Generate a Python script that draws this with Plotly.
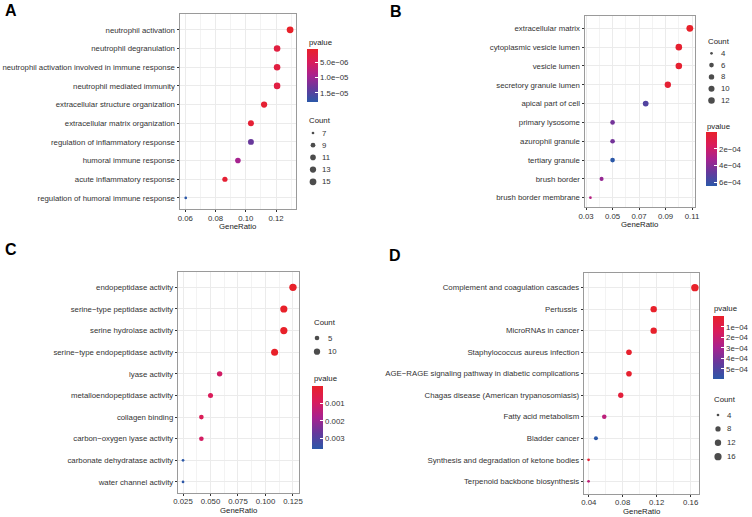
import math
import plotly.graph_objects as go

W, H = 752, 517

# ---------------- data ----------------
a_terms = ["neutrophil activation", "neutrophil degranulation",
           "neutrophil activation involved in immune response", "neutrophil mediated immunity",
           "extracellular structure organization", "extracellular matrix organization",
           "regulation of inflammatory response", "humoral immune response",
           "acute inflammatory response", "regulation of humoral immune response"]
a_ratio = [0.1293, 0.1207, 0.1207, 0.1207, 0.1121, 0.1034, 0.1034, 0.0948, 0.0862, 0.0603]
a_count = [15, 14, 14, 14, 13, 12, 12, 11, 10, 7]
a_pvalue = [6.2e-7, 2.6e-6, 2.6e-6, 2.8e-6, 1.4e-6, 1.6e-6, 1.35e-5, 9.5e-6, 1.5e-6, 1.81e-5]
a_ptick = [5e-6, 1e-5, 1.5e-5]
a_ptick_text = ["5.0e\u221206", "1.0e\u221205", "1.5e\u221205"]
a_count_breaks = [7, 9, 11, 13, 15]

b_terms = ["extracellular matrix", "cytoplasmic vesicle lumen", "vesicle lumen",
           "secretory granule lumen", "apical part of cell", "primary lysosome",
           "azurophil granule", "tertiary granule", "brush border", "brush border membrane"]
b_ratio = [0.1083, 0.1000, 0.1000, 0.0917, 0.0750, 0.0500, 0.0500, 0.0500, 0.0417, 0.0333]
b_count = [13, 12, 12, 11, 9, 6, 6, 6, 5, 4]
b_pvalue = [1.0e-6, 2.2e-5, 2.4e-5, 3.2e-5, 5.4e-4, 4.5e-4, 4.5e-4, 6.5e-4, 3.7e-4, 2.8e-4]
b_ptick = [2e-4, 4e-4, 6e-4]
b_ptick_text = ["2e\u221204", "4e\u221204", "6e\u221204"]
b_count_breaks = [4, 6, 8, 10, 12]

c_terms = ["endopeptidase activity", "serine\u2212type peptidase activity", "serine hydrolase activity",
           "serine\u2212type endopeptidase activity", "lyase activity", "metalloendopeptidase activity",
           "collagen binding", "carbon\u2212oxygen lyase activity", "carbonate dehydratase activity",
           "water channel activity"]
c_ratio = [0.1250, 0.1167, 0.1167, 0.1083, 0.0583, 0.0500, 0.0417, 0.0417, 0.0250, 0.0250]
c_count = [15, 14, 14, 13, 7, 6, 5, 5, 3, 3]
c_pvalue = [2e-6, 3e-6, 3e-6, 5e-6, 1.05e-3, 8.5e-4, 8.0e-4, 1.0e-3, 3.57e-3, 3.55e-3]
c_ptick = [0.001, 0.002, 0.003]
c_ptick_text = ["0.001", "0.002", "0.003"]
c_count_breaks = [5, 10]

d_terms = ["Complement and coagulation cascades", "Pertussis\u00a0", "MicroRNAs in cancer",
           "Staphylococcus aureus infection", "AGE\u2212RAGE signaling pathway in diabetic complications",
           "Chagas disease (American trypanosomiasis)", "Fatty acid metabolism", "Bladder cancer",
           "Synthesis and degradation of ketone bodies", "Terpenoid backbone biosynthesis"]
d_ratio = [0.1650, 0.1165, 0.1165, 0.0874, 0.0874, 0.0777, 0.0583, 0.0485, 0.0398, 0.0398]
d_count = [17, 12, 12, 9, 9, 8, 6, 5, 4, 4]
d_pvalue = [2e-7, 4e-6, 7e-6, 1.2e-5, 1.5e-5, 5e-5, 2.4e-4, 6.0e-4, 2.5e-5, 2.3e-4]
d_ptick = [1e-4, 2e-4, 3e-4, 4e-4, 5e-4]
d_ptick_text = ["1e\u221204", "2e\u221204", "3e\u221204", "4e\u221204", "5e\u221204"]
d_count_breaks = [4, 8, 12, 16]

# ---------------- style ----------------
FONT = "Arial, Liberation Sans, Helvetica, sans-serif"
FS = 7.8
TXT = "#333333"
GRID = "#EBEBEB"
MINOR = "#F3F3F3"
BORDER = "#9a9a9a"
SCALE = [[0.0, "#2B58A8"], [0.25, "#64399C"], [0.5, "#A8228F"], [0.75, "#D91C5C"], [1.0, "#E8212A"]]


def fx(px):
    return px / W


def fy(py):
    return 1 - py / H


def dot_size(counts, c, dmax, dmin=2.7):
    lo, hi = min(counts), max(counts)
    return dmin + (dmax - dmin) * math.sqrt((c - lo) / (hi - lo))


panels = [
    dict(terms=a_terms, ratio=a_ratio, count=a_count, p=a_pvalue, ptick=a_ptick, ptt=a_ptick_text,
         breaks=a_count_breaks, box=(180, 296.3, 14, 209.3), xr=[0.0565, 0.1334], t0=0.06, dt=0.02,
         fmt=".2f", yr=[9.61, -0.85], dmax=6.8,
         cbar=(306.7, 49.3, 102.7), ptitle=(306.7, 42.7),
         ctitle=(306.7, 120.3), cfirst=133, cstep=12.2, cdot=313, clab=320),
    dict(terms=b_terms, ratio=b_ratio, count=b_count, p=b_pvalue, ptick=b_ptick, ptt=b_ptick_text,
         breaks=b_count_breaks, box=(585, 695, 15.7, 207.3), xr=[0.0292, 0.1122], t0=0.03, dt=0.02,
         fmt=".2f", yr=[9.51, -0.67], dmax=6.8,
         cbar=(705.5, 132.3, 186.7), ptitle=(704.5, 126),
         ctitle=(706, 41.3), cfirst=53.3, cstep=11.8, cdot=711.5, clab=719),
    dict(terms=c_terms, ratio=c_ratio, count=c_count, p=c_pvalue, ptick=c_ptick, ptt=c_ptick_text,
         breaks=c_count_breaks, box=(178.3, 299, 272, 493), xr=[0.0207, 0.1305], t0=0.025, dt=0.025,
         fmt=".3f", yr=[9.51, -0.71], dmax=7.4,
         cbar=(311.7, 385.7, 449), ptitle=(312, 378.7),
         ctitle=(312, 322.3), cfirst=338, cstep=13.7, cdot=317, clab=326),
    dict(terms=d_terms, ratio=d_ratio, count=d_count, p=d_pvalue, ptick=d_ptick, ptt=d_ptick_text,
         breaks=d_count_breaks, box=(584.3, 699.3, 273, 494), xr=[0.0348, 0.1702], t0=0.04, dt=0.04,
         fmt=".2f", yr=[9.59, -0.68], dmax=7.4,
         cbar=(713, 316.3, 379.7), ptitle=(712, 308.7),
         ctitle=(712, 399.7), cfirst=415, cstep=13.9, cdot=718, clab=725),
]

fig = go.Figure()
layout = dict(width=W, height=H, margin=dict(l=0, r=0, t=0, b=0),
              paper_bgcolor="white", plot_bgcolor="rgba(0,0,0,0)",
              font=dict(family=FONT, size=FS, color=TXT), showlegend=False)
annotations = []

for i, pn in enumerate(panels, start=1):
    sfx = "" if i == 1 else str(i)
    x0, x1, y0, y1 = pn["box"]
    sizes = [dot_size(pn["count"], c, pn["dmax"]) for c in pn["count"]]
    fig.add_trace(go.Scatter(
        x=pn["ratio"], y=pn["terms"], mode="markers",
        marker=dict(size=sizes, color=[-v for v in pn["p"]], coloraxis="coloraxis" + sfx,
                    line=dict(width=0), opacity=1),
        xaxis="x" + sfx, yaxis="y" + sfx, hovertemplate="%{y}<br>GeneRatio=%{x}<extra></extra>"))

    layout["xaxis" + sfx] = dict(
        domain=[fx(x0), fx(x1)], anchor="y" + sfx, range=pn["xr"],
        tickmode="linear", tick0=pn["t0"], dtick=pn["dt"], tickformat=pn["fmt"],
        showgrid=True, gridcolor=GRID, gridwidth=0.8, zeroline=False,
        minor=dict(tick0=pn["t0"], dtick=pn["dt"] / 2, showgrid=True, gridcolor=MINOR, gridwidth=0.5),
        showline=True, mirror=True, linecolor=BORDER, linewidth=1,
        ticks="outside", ticklen=2, tickwidth=0.8, tickcolor=TXT, ticklabelstandoff=-1,
        tickfont=dict(size=FS, color=TXT), automargin=False)
    layout["yaxis" + sfx] = dict(
        domain=[fy(y1), fy(y0)], anchor="x" + sfx, type="category",
        categoryorder="array", categoryarray=pn["terms"], range=pn["yr"],
        showgrid=True, gridcolor=GRID, gridwidth=0.8, zeroline=False,
        showline=True, mirror=True, linecolor=BORDER, linewidth=1,
        ticks="outside", ticklen=2.5, tickwidth=0.8, tickcolor=TXT,
        tickfont=dict(size=FS, color=TXT), automargin=False)

    bx, by0, by1 = pn["cbar"]
    layout["coloraxis" + sfx] = dict(
        cmin=-max(pn["p"]), cmax=-min(pn["p"]), colorscale=SCALE,
        colorbar=dict(x=fx(bx), xanchor="left", xpad=0, y=fy(by0), yanchor="top", ypad=0,
                      len=by1 - by0, lenmode="pixels", thickness=11, thicknessmode="pixels",
                      outlinewidth=0, tickmode="array", tickvals=[-v for v in pn["ptick"]],
                      ticktext=pn["ptt"], ticks="inside", ticklen=2.5, tickcolor="white",
                      tickwidth=1, tickfont=dict(size=FS, color=TXT), title=dict(text="")))

    annotations.append(dict(text="GeneRatio", x=fx((x0 + x1) / 2), y=fy(y1 + 17.5), xref="paper", yref="paper",
                            xanchor="center", yanchor="middle", showarrow=False,
                            font=dict(size=FS, color="#1a1a1a")))
    annotations.append(dict(text="pvalue", x=fx(pn["ptitle"][0]), y=fy(pn["ptitle"][1]), xref="paper",
                            yref="paper", xanchor="left", yanchor="middle", showarrow=False,
                            font=dict(size=FS, color="#1a1a1a")))
    annotations.append(dict(text="Count", x=fx(pn["ctitle"][0]), y=fy(pn["ctitle"][1]), xref="paper",
                            yref="paper", xanchor="left", yanchor="middle", showarrow=False,
                            font=dict(size=FS, color="#1a1a1a")))
    key_y = [pn["cfirst"] + k * pn["cstep"] for k in range(len(pn["breaks"]))]
    fig.add_trace(go.Scatter(
        x=[pn["cdot"]] * len(pn["breaks"]), y=key_y, mode="markers",
        marker=dict(size=[dot_size(pn["count"], c, pn["dmax"]) for c in pn["breaks"]], color="black",
                    line=dict(width=0)),
        xaxis="x5", yaxis="y5", hoverinfo="skip"))
    for c, ky in zip(pn["breaks"], key_y):
        annotations.append(dict(text=str(c), x=fx(pn["clab"]), y=fy(ky), xref="paper", yref="paper",
                                xanchor="left", yanchor="middle", showarrow=False,
                                font=dict(size=FS, color=TXT)))

layout["xaxis5"] = dict(domain=[0, 1], range=[0, W], visible=False, anchor="y5", fixedrange=True)
layout["yaxis5"] = dict(domain=[0, 1], range=[H, 0], visible=False, anchor="x5", fixedrange=True)

for lab, px, py in [("A", 3, 10.5), ("B", 388, 11), ("C", 3, 249.5), ("D", 387, 255.5)]:
    annotations.append(dict(text="<b>%s</b>" % lab, x=fx(px), y=fy(py), xref="paper", yref="paper",
                            xanchor="left", yanchor="middle", showarrow=False,
                            font=dict(size=16, color="black", family=FONT)))

layout["annotations"] = annotations
fig.update_layout(**layout)
fig.write_html("out.html", config={"displayModeBar": False},
               post_script="document.body.style.margin='0px';document.body.style.overflow='hidden';")
